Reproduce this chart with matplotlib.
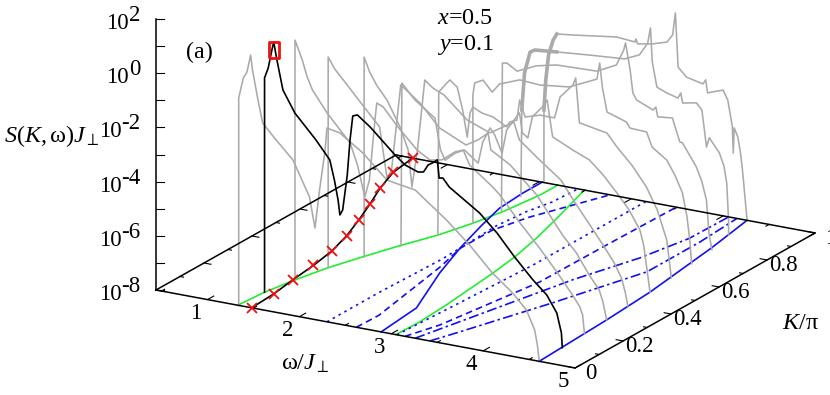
import matplotlib
matplotlib.use('Agg')
import numpy as np
import matplotlib.pyplot as plt

plt.rcParams['font.family'] = ['Liberation Serif', 'DejaVu Serif']
plt.rcParams['mathtext.fontset'] = 'custom'
plt.rcParams['mathtext.rm'] = 'Liberation Serif'
plt.rcParams['mathtext.it'] = 'Liberation Serif:italic'
plt.rcParams['mathtext.fallback'] = 'stix'

# spectra: omega/J and log10(S J) at fixed K
w_k00 = [1.34, 1.34, 1.39, 1.43, 1.47, 1.49, 1.55, 1.60, 1.73, 1.93, 2.11, 2.17, 2.22, 2.28, 2.30, 2.44, 2.69, 2.95, 3.04, 3.26, 3.60, 3.85, 4.10, 4.32, 4.47, 4.56, 4.59, 4.61]
s_k00 = [-8, -0.35, 0.42, 0.67, 1.32, 0.78, -0.29, -1.10, -1.58, -2.26, -3.51, -4.62, -3.18, -1.68, -0.85, -0.94, -1.52, -2.35, -2.41, -2.53, -3.42, -4.18, -5.06, -5.66, -6.19, -6.87, -7.41, -8]

w_k01 = [1.36, 1.36, 1.40, 1.44, 1.46, 1.49, 1.56, 1.69, 1.92, 2.07, 2.12, 2.16, 2.18, 2.21, 2.26, 2.29, 2.32, 2.37, 2.51, 2.78, 2.89, 3.03, 3.09, 3.14, 3.19, 3.24, 3.26, 3.30, 3.37, 3.70, 3.89, 4.08, 4.28, 4.43, 4.54, 4.59, 4.60]
s_k01 = [-8, -0.09, 0.30, 0.99, 1.30, 0.73, -0.41, -1.18, -2.03, -2.67, -3.38, -4.09, -4.63, -4.43, -3.11, -1.80, -0.89, -0.82, -1.18, -2.04, -2.34, -2.51, -2.47, -2.18, -2.07, -1.93, -2.59, -2.56, -2.85, -3.60, -4.22, -4.98, -5.70, -6.16, -6.76, -7.46, -8]

w_k02 = [1.43, 1.43, 1.51, 1.56, 1.62, 1.78, 2.03, 2.11, 2.19, 2.24, 2.30, 2.32, 2.39, 2.55, 2.76, 2.90, 3.03, 3.17, 3.26, 3.33, 3.58, 3.66, 3.87, 4.09, 4.28, 4.45, 4.53, 4.56, 4.58]
s_k02 = [-8, 0.85, 0.16, -0.40, -0.87, -1.62, -2.57, -3.33, -4.46, -3.80, -1.55, -0.91, -1.01, -1.65, -2.37, -2.65, -2.56, -2.18, -2.05, -2.56, -3.21, -3.46, -4.32, -5.14, -5.91, -6.65, -7.04, -7.32, -8]

w_k03 = [1.53, 1.53, 1.60, 1.71, 1.93, 2.09, 2.17, 2.22, 2.29, 2.32, 2.53, 2.74, 3.03, 3.16, 3.27, 3.30, 3.51, 3.80, 4.08, 4.23, 4.37, 4.48, 4.52, 4.56]
s_k03 = [-8, -0.21, -0.60, -1.01, -1.84, -2.44, -4.27, -3.94, -1.69, -0.74, -1.28, -2.06, -2.51, -2.24, -1.92, -2.52, -2.94, -3.87, -5.17, -5.73, -6.46, -6.95, -7.36, -8]

w_k04 = [1.66, 1.66, 1.72, 1.80, 1.91, 2.05, 2.14, 2.18, 2.24, 2.32, 2.41, 2.53, 2.78, 3.03, 3.22, 3.29, 3.35, 3.57, 3.80, 3.95, 4.10, 4.26, 4.38, 4.46, 4.50, 4.53]
s_k04 = [-8, -0.63, -1.14, -1.60, -2.06, -2.96, -3.76, -5.09, -3.69, -1.06, -1.30, -1.48, -2.24, -2.56, -2.15, -2.00, -2.62, -3.22, -3.81, -4.53, -5.20, -5.92, -6.50, -7.01, -7.50, -8]

w_k05 = [1.80, 1.81, 1.95, 2.17, 2.23, 2.28, 2.39, 2.49, 2.64, 2.69, 2.77, 2.82, 2.90, 2.95, 3.09, 3.12, 3.18, 3.23, 3.34, 3.39, 3.45, 3.67, 3.85, 4.00, 4.15, 4.28, 4.40, 4.44, 4.47, 4.51]
s_k05 = [-8, -1.99, -2.52, -3.06, -4.19, -4.54, -4.21, -4.03, -4.42, -3.61, -3.04, -3.27, -3.89, -3.00, -2.28, -3.00, -3.15, -2.34, -1.90, -1.62, -2.94, -3.29, -3.54, -4.00, -4.57, -5.10, -5.78, -6.30, -7.02, -8]

w_k06 = [1.94, 1.95, 1.99, 2.07, 2.15, 2.21, 2.26, 2.29, 2.32, 2.42, 2.54, 2.69, 2.72, 2.80, 2.83, 2.89, 3.05, 3.21, 3.27, 3.41, 3.44, 3.48, 3.78, 3.89, 4.05, 4.21, 4.33, 4.43, 4.46, 4.48]
s_k06 = [-8, -2.73, -2.55, -2.21, -2.42, -3.23, -4.20, -3.29, -3.05, -3.21, -3.28, -3.55, -3.35, -3.23, -2.47, -3.06, -2.89, -2.89, -2.08, -1.55, -1.27, -2.90, -3.09, -3.54, -4.10, -4.81, -5.60, -6.62, -7.40, -8]

w_k07 = [2.06, 2.06, 2.08, 2.17, 2.27, 2.35, 2.57, 2.79, 3.11, 3.41, 3.44, 3.47, 3.52, 3.73, 3.77, 3.95, 4.01, 4.17, 4.26, 4.34, 4.39, 4.42, 4.44]
s_k07 = [-8, -3.27, -2.81, -2.65, -3.03, -2.68, -2.39, -2.44, -2.31, -1.83, -1.22, -2.12, -2.98, -3.21, -3.41, -3.44, -3.96, -4.34, -4.85, -5.44, -6.30, -7.13, -8]

w_k08 = [2.11, 2.12, 2.17, 2.28, 2.49, 2.71, 3.15, 3.36, 3.44, 3.46, 3.51, 3.54, 3.58, 3.76, 3.79, 3.81, 3.97, 4.05, 4.08, 4.23, 4.29, 4.34, 4.37, 4.40]
s_k08 = [-8, -2.55, -2.52, -2.75, -2.42, -2.25, -2.20, -1.84, -1.24, -0.96, -1.93, -2.76, -2.99, -3.25, -3.12, -3.47, -3.41, -4.24, -4.26, -5.05, -5.55, -6.20, -7.47, -8]

w_k09 = [2.06, 2.07, 2.10, 2.16, 2.21, 2.45, 2.81, 3.19, 3.35, 3.44, 3.47, 3.49, 3.54, 3.65, 3.77, 3.80, 3.82, 3.97, 4.03, 4.08, 4.11, 4.22, 4.27, 4.30, 4.32, 4.32]
s_k09 = [-8, -4.81, -3.42, -2.62, -2.51, -2.43, -2.32, -2.22, -1.97, -1.48, -0.90, -2.14, -3.04, -3.19, -3.30, -3.09, -3.45, -3.35, -3.58, -4.91, -4.55, -5.04, -5.50, -6.10, -7.45, -8]

w_k10 = [2.05, 2.05, 2.07, 2.10, 2.15, 2.19, 2.36, 2.84, 3.04, 3.05, 3.07, 3.23, 3.39, 3.45, 3.48, 3.51, 3.60, 3.78, 3.81, 3.83, 3.93, 4.00, 4.05, 4.10, 4.11, 4.12, 4.16, 4.19, 4.21, 4.24, 4.26]
s_k10 = [-8, -5.32, -4.20, -3.26, -2.68, -2.43, -2.36, -2.13, -2.19, -2.07, -2.24, -2.14, -1.97, -1.67, -0.84, -2.82, -3.13, -3.27, -3.10, -3.57, -3.44, -3.36, -3.69, -4.65, -5.61, -4.68, -4.99, -5.60, -6.17, -7.26, -8]

k_spectra = [0.0, 0.2, 0.3, 0.4, 0.5, 0.6, 0.7, 0.8, 0.9, 1.0]
w_spectra = [w_k00, w_k02, w_k03, w_k04, w_k05, w_k06, w_k07, w_k08, w_k09, w_k10]
s_spectra = [s_k00, s_k02, s_k03, s_k04, s_k05, s_k06, s_k07, s_k08, s_k09, s_k10]

# dispersion lines on the floor, omega as function of K
k_cross = [0.0, 0.1, 0.2, 0.3, 0.4, 0.5, 0.6, 0.7, 0.8, 0.9, 1.0]
w_cross = [1.48, 1.46, 1.41, 1.37, 1.31, 1.21, 1.08, 0.94, 0.79, 0.67, 0.62]

k_green1 = [0.0, 0.1, 0.2, 0.3, 0.4, 0.5, 0.6, 0.7, 0.8, 0.93, 1.0]
w_green1 = [1.33, 1.36, 1.43, 1.52, 1.65, 1.79, 1.95, 2.06, 2.14, 2.20, 2.20]
k_green2 = [0.0, 0.09, 0.22, 0.44, 0.56, 0.68, 0.82, 0.94, 1.0]
w_green2 = [3.05, 3.06, 3.03, 2.95, 2.89, 2.80, 2.67, 2.55, 2.49]

k_blue1 = [0.0, 0.17, 0.39, 0.55, 0.69, 0.81, 0.92, 1.0]
w_blue1 = [2.89, 2.83, 2.51, 2.315, 2.17, 2.06, 2.03, 2.03]
k_blue2 = [0.0, 0.3, 0.5, 0.81, 1.0]
w_blue2 = [4.61, 4.56, 4.51, 4.37, 4.26]

k_dot1 = [0.0, 0.22, 0.47, 0.71, 0.82, 0.9, 1.0]
w_dot1 = [2.30, 2.30, 2.33, 2.29, 2.33, 2.40, 2.42]
k_dash1 = [0.0, 0.09, 0.42, 0.55, 0.68, 0.79, 0.92, 1.0]
w_dash1 = [2.62, 2.63, 2.43, 2.32, 2.32, 2.43, 2.64, 2.77]
k_dot2 = [0.0, 0.25, 0.53, 0.85, 1.0]
w_dot2 = [3.06, 3.11, 3.16, 3.16, 3.16]
k_dash2 = [0.0, 0.1, 0.44, 0.72, 1.0]
w_dash2 = [3.15, 3.27, 3.46, 3.47, 3.49]
k_dd1 = [0.0, 0.49, 0.68, 0.84, 1.0]
w_dd1 = [3.26, 3.70, 3.93, 4.05, 4.06]
k_dd2 = [0.0, 0.08, 0.34, 0.61, 0.83, 1.0]
w_dd2 = [3.42, 3.53, 3.87, 4.19, 4.19, 4.15]

w_ticks = [1, 2, 3, 4, 5]
w_minor = [0.5, 1.5, 2.5, 3.5, 4.5]
k_ticks = [0, 0.2, 0.4, 0.6, 0.8, 1]
k_minor = [0.1, 0.3, 0.5, 0.7, 0.9]
z_ticks = [-8, -7, -6, -5, -4, -3, -2, -1, 0, 1, 2]
z_labels = [-8, -6, -4, -2, 0, 2]

W_MIN, W_MAX = 0.44, 5.0
Z_MIN, Z_MAX = -8.0, 2.0


# fixed oblique view of the box, returns figure pixels
def project(w, k, z=Z_MIN):
    w = np.asarray(w, dtype=float)
    k = np.asarray(k, dtype=float)
    z = np.asarray(z, dtype=float)
    x = 156 + 91.9 * (w - W_MIN) + 240 * k
    y = 290 + 17.1 * (w - W_MIN) - 135 * k - 27.1 * (z - Z_MIN)
    return x, y


fig = plt.figure(figsize=(8.3, 3.95), dpi=100)
ax = fig.add_axes([0, 0, 1, 1])
ax.set_xlim(0, 830)
ax.set_ylim(395, 0)
ax.axis('off')

GREY = '#aaaaaa'
BLUE = '#1010f0'
GREEN = '#20ee30'
BLACK = '#000000'
RED = '#f01010'

# floor lines
for kk, ww, col, ls in [
    (k_green1, w_green1, GREEN, '-'),
    (k_green2, w_green2, GREEN, '-'),
    (k_blue1, w_blue1, BLUE, '-'),
    (k_blue2, w_blue2, BLUE, '-'),
    (k_dot1, w_dot1, BLUE, (0, (1.5, 2.5))),
    (k_dash1, w_dash1, BLUE, (0, (4, 2.5))),
    (k_dot2, w_dot2, BLUE, (0, (1.5, 2.5))),
    (k_dash2, w_dash2, BLUE, (0, (4, 2.5))),
    (k_dd1, w_dd1, BLUE, (0, (6, 2, 1.5, 2))),
    (k_dd2, w_dd2, BLUE, (0, (6, 2, 1.5, 2))),
]:
    x, y = project(ww, kk)
    ax.plot(x, y, color=col, ls=ls, lw=1.2)

# grey spectra, far ones first
for kv, ww, ss in reversed(list(zip(k_spectra, w_spectra, s_spectra))):
    x, y = project(ww, kv, ss)
    ax.plot(x, y, color=GREY, lw=1.15, solid_joinstyle='round')
    if kv >= 0.9:
        # noisy rise looks thicker in the original
        ax.plot(x[1:6], y[1:6], color=GREY, lw=2.6)

# black spectrum at K = 0.1
x, y = project(w_k01, 0.1, s_k01)
ax.plot(x, y, color=BLACK, lw=1.2, solid_joinstyle='round')

# box
fx, fy = project([W_MIN, W_MAX, W_MAX, W_MIN, W_MIN], [0, 0, 1, 1, 0])
ax.plot(fx, fy, color=BLACK, lw=1.1)
zx, zy = project([W_MIN, W_MIN], [0, 0], [Z_MIN, Z_MAX])
ax.plot(zx, zy, color=BLACK, lw=1.1)

# ticks on the four floor edges
for wt, dk in [(v, 0.026) for v in w_ticks] + [(v, 0.013) for v in w_minor]:
    x, y = project([wt, wt], [0, dk])
    ax.plot(x, y, color=BLACK, lw=0.8)
    x, y = project([wt, wt], [1, 1 - dk])
    ax.plot(x, y, color=BLACK, lw=0.8)
for kt, dw in [(v, 0.075) for v in k_ticks] + [(v, 0.038) for v in k_minor]:
    x, y = project([W_MAX, W_MAX - dw], [kt, kt])
    ax.plot(x, y, color=BLACK, lw=0.8)
    x, y = project([W_MIN, W_MIN + dw], [kt, kt])
    ax.plot(x, y, color=BLACK, lw=0.8)
for zt in z_ticks:
    x, y = project(W_MIN, 0, zt)
    ax.plot([x, x + 8], [y, y], color=BLACK, lw=0.8)

# dispersion with crosses
x, y = project(w_cross, k_cross)
ax.plot(x, y, color=BLACK, lw=1.2)
ax.plot(x, y, ls='', marker='x', color=RED, ms=7.2, mew=1.3)

# open marker on the main peak
x, y = project(1.46, 0.1, 1.02)
box = [(-0.62, -1), (0.62, -1), (0.62, 1), (-0.62, 1), (-0.62, -1)]
ax.plot([x], [y], ls='', marker=box, ms=11, mfc='none', mec=RED, mew=2.0)

# labels
FS = 16.5
LAB = 17.4
for wt in w_ticks:
    x, y = project(wt, 0)
    ax.text(x - 12, y + 14, str(wt), fontsize=FS, ha='center', va='center')
for kt in k_ticks:
    x, y = project(W_MAX, kt)
    ax.text(x + 16, y + 6, f'{kt:g}', fontsize=FS, ha='center', va='center')
for zl in z_labels:
    x, y = project(W_MIN, 0, zl)
    ax.text(140, y + 2, str(zl), fontsize=FS, ha='right', va='baseline')
    ax.text(129 if zl >= 0 else 122, y + 10, '10', fontsize=FS, ha='right', va='baseline')

ax.text(186, 58, '(a)', fontsize=LAB, va='baseline')
ax.text(437, 24, r'$x$=0.5', fontsize=LAB, va='baseline')
ax.text(437, 50, r'$y$=0.1', fontsize=LAB, va='baseline')
ax.text(4, 142, r'$S(K,\mathrm{\omega})J_{\perp}$', fontsize=LAB, va='baseline')
ax.text(281, 370, r'$\mathrm{\omega}/J_{\perp}$', fontsize=LAB, va='baseline')
ax.text(782, 329, r'$K/\mathrm{\pi}$', fontsize=LAB, va='baseline')

plt.savefig('out.png', dpi=100)
